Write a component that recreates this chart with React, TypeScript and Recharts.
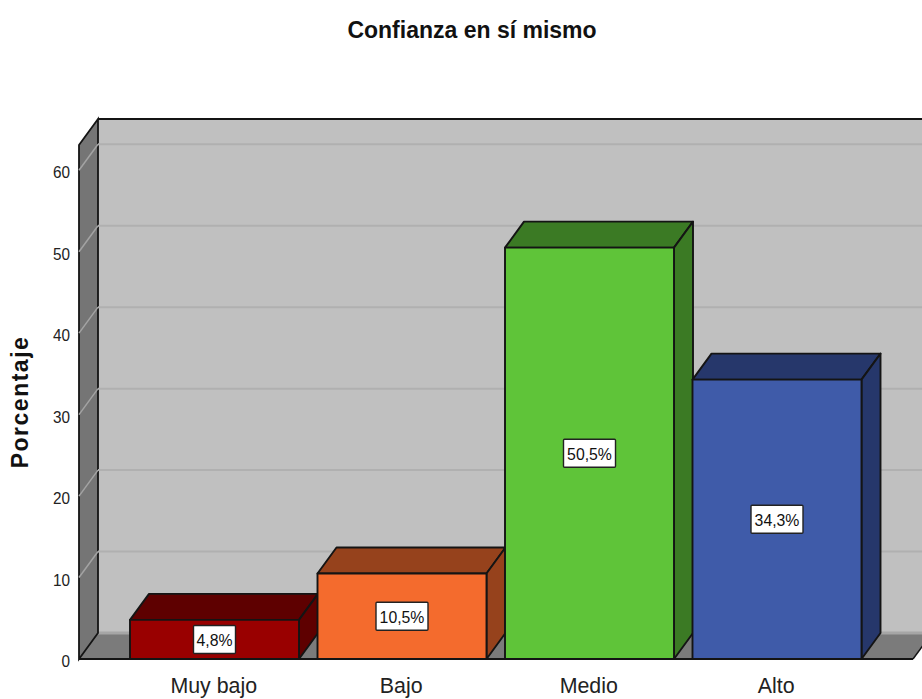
import { BarChart, Bar, XAxis, YAxis, ReferenceArea, ReferenceLine, LabelList } from "recharts";

const categories = ["Muy bajo", "Bajo", "Medio", "Alto"];
const percentages = [4.8, 10.5, 50.5, 34.3];
const percentLabels = ["4,8%", "10,5%", "50,5%", "34,3%"];
const yTicks = [0, 10, 20, 30, 40, 50, 60];
const gridValues = [10, 20, 30, 40, 50, 60];
const frontColors = ["#990000", "#f46b2d", "#5fc439", "#3f5ba9"];
const sideColors = ["#5e0000", "#96421c", "#3b7a24", "#26376b"];

const data = categories.map((name, i) => ({ name, value: percentages[i], label: percentLabels[i] }));

// depth of the fake 3D box
const DX = 19;
const DY = -26;
const EDGE = "#141414";
const PAD_LEFT = 42;
const PAD_RIGHT = 42;
const Y_MAX = 63.1;

function Walls({ x: areaX, y, width: areaWidth, height }: any) {
  // the area only covers the padded band range, widen it back to the full axis
  const x = areaX - PAD_LEFT;
  const width = areaWidth + PAD_LEFT + PAD_RIGHT;
  const bottom = y + height;
  const right = x + width;
  return (
    <g>
      <rect x={x + DX} y={y + DY} width={width} height={height} fill="#c0c0c0" />
      <polygon
        points={`${x},${bottom} ${x + DX},${bottom + DY} ${right + DX},${bottom + DY} ${right},${bottom}`}
        fill="#7b7b7b"
      />
      <line x1={x + DX} x2={right + DX} y1={bottom + DY} y2={bottom + DY} stroke="#a6a6a6" strokeWidth={3} />
      <polygon
        points={`${x},${y} ${x + DX},${y + DY} ${x + DX},${bottom + DY} ${x},${bottom}`}
        fill="#757575"
        stroke={EDGE}
        strokeWidth={1.8}
      />
      <line x1={x + DX} x2={right + DX} y1={y + DY} y2={y + DY} stroke={EDGE} strokeWidth={1.8} />
      <line x1={right} x2={right + DX} y1={bottom} y2={bottom + DY} stroke={EDGE} strokeWidth={1.5} />
    </g>
  );
}

function WallGridLine({ x1, x2, y1, y2 }: any) {
  return (
    <g>
      <line x1={x1 + DX} x2={x2 + DX} y1={y1 + DY} y2={y2 + DY} stroke="#b0b0b0" strokeWidth={2} />
      <line x1={x1} x2={x1 + DX} y1={y1} y2={y1 + DY} stroke="#a3a3a3" strokeWidth={1.5} />
    </g>
  );
}

function Box3D({ x, y, width, height, index }: any) {
  const r = x + width;
  const b = y + height;
  return (
    <g stroke={EDGE} strokeWidth={1.9} strokeLinejoin="round">
      <polygon
        points={`${x},${y} ${x + DX},${y + DY} ${r + DX},${y + DY} ${r},${y}`}
        fill={sideColors[index]}
      />
      <polygon
        points={`${r},${y} ${r + DX},${y + DY} ${r + DX},${b + DY} ${r},${b}`}
        fill={sideColors[index]}
      />
      <rect x={x} y={y} width={width} height={height} fill={frontColors[index]} />
    </g>
  );
}

function ValueBadge({ x, y, width, height, value }: any) {
  const cx = x + width / 2;
  const cy = y + height / 2;
  const w = String(value).length * 10 + 2;
  return (
    <g>
      <rect x={cx - w / 2} y={cy - 14} width={w} height={28} fill="#fff" stroke="#222" strokeWidth={1.4} rx={1} />
      <text
        transform={`translate(${cx},${cy + 6.5}) scale(0.93,1)`}
        textAnchor="middle"
        fontSize={17}
        fontFamily="Liberation Sans"
        fill="#111"
      >
        {value}
      </text>
    </g>
  );
}

function YTick({ x, y, payload }: any) {
  return (
    <text
      transform={`translate(${x + 6},${y + 8}) scale(0.9,1)`}
      textAnchor="end"
      fontSize={17}
      fontFamily="Liberation Sans"
      fill="#222"
    >
      {payload.value}
    </text>
  );
}

function XTick({ x, y, payload }: any) {
  return (
    <text
      transform={`translate(${x - 1},${y + 20}) scale(0.93,1)`}
      textAnchor="middle"
      fontSize={23}
      fontFamily="Liberation Sans"
      fill="#222"
    >
      {payload.value}
    </text>
  );
}

export default function App() {
  return (
    <div style={{ position: "absolute", left: 0, top: 0, width: 922, height: 699, background: "#fff", overflow: "hidden" }}>
      <BarChart
        width={922}
        height={699}
        data={data}
        margin={{ top: 145, right: 9, bottom: 0, left: 0 }}
      >
        <XAxis
          dataKey="name"
          padding={{ left: PAD_LEFT, right: PAD_RIGHT }}
          axisLine={{ stroke: EDGE, strokeWidth: 1.8 }}
          tickLine={false}
          tickMargin={8}
          tick={<XTick />}
          interval={0}
          height={40}
        />
        <YAxis
          width={79}
          domain={[0, Y_MAX]}
          ticks={yTicks}
          axisLine={false}
          tickLine={false}
          tickMargin={9}
          tick={<YTick />}
        />
        <ReferenceArea y1={0} y2={Y_MAX} shape={<Walls />} ifOverflow="visible" zIndex={-60} />
        {gridValues.map((v) => (
          <ReferenceLine key={v} y={v} shape={<WallGridLine />} ifOverflow="visible" zIndex={-50} />
        ))}
        <Bar dataKey="value" barSize={169} shape={<Box3D />} isAnimationActive={false}>
          <LabelList dataKey="label" content={<ValueBadge />} />
        </Bar>
        <text x={472} y={38} textAnchor="middle" fontSize={23} fontWeight="bold" fontFamily="Liberation Sans" fill="#111">
          Confianza en sí mismo
        </text>
        <text
          transform="translate(28,402) rotate(-90)"
          textAnchor="middle"
          fontSize={23}
          fontWeight="bold"
          letterSpacing={1.5}
          fontFamily="Liberation Sans"
          fill="#111"
        >
          Porcentaje
        </text>
      </BarChart>
    </div>
  );
}
